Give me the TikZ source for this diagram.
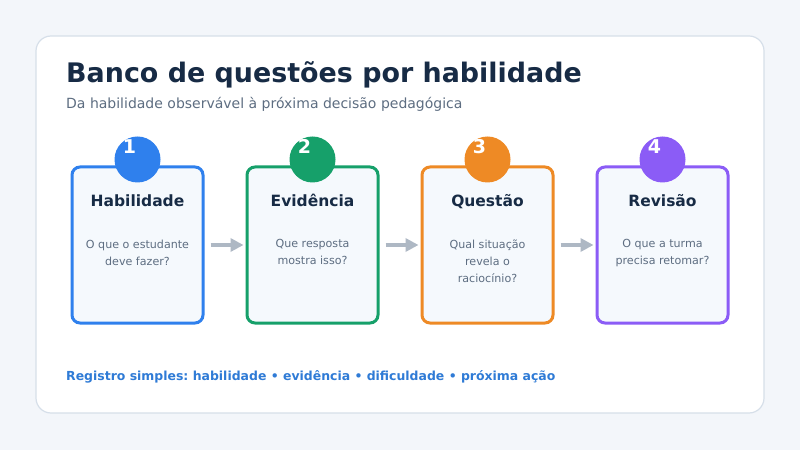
\documentclass[tikz,border=0pt]{standalone}
\usepackage{fontspec}
\setmainfont{DejaVu Sans}
\frenchspacing
\usetikzlibrary{positioning,arrows.meta}
\definecolor{pagebg}{HTML}{F3F6FA}
\definecolor{cardline}{HTML}{D6DFE9}
\definecolor{boxfill}{HTML}{F5F9FD}
\definecolor{ink}{HTML}{172B45}
\definecolor{muted}{HTML}{5D6D81}
\definecolor{arrowgray}{HTML}{AEB8C4}
\definecolor{cblue}{HTML}{2F80ED}
\definecolor{cgreen}{HTML}{16A06A}
\definecolor{corange}{HTML}{EE8A25}
\definecolor{cpurple}{HTML}{8B5CF6}
\definecolor{footblue}{HTML}{2F7BD6}

\begin{document}
\begin{tikzpicture}[x=1pt,y=1pt]
		\tikzstyle{stage}=[rectangle, rounded corners=8pt, line width=3pt, fill=boxfill, minimum width=131pt, minimum height=156pt, node distance=41pt]
		\tikzstyle{badge}=[circle, minimum size=46pt, inner sep=0pt]
		\tikzstyle{num}=[text=white, font=\fontsize{19}{19}\selectfont\bfseries, anchor=base]
		\tikzstyle{head}=[text=ink, font=\fontsize{15.5}{15.5}\selectfont\bfseries, anchor=base]
		\tikzstyle{ask}=[text=muted, font=\fontsize{11.1}{17}\selectfont, align=center, anchor=north, inner sep=0pt]
		\tikzstyle{connect}=[-{Triangle[length=13pt,width=13pt]}, line width=4pt, arrowgray, shorten <=6pt, shorten >=2pt]
		% page and card
		\fill[pagebg] (0,0) rectangle (800,450);
		\draw[cardline, fill=white, line width=1.2pt, rounded corners=15pt] (36,37) rectangle (764,414);
		\useasboundingbox (0,0) rectangle (800,450);
		
		\node[anchor=base west, inner sep=0pt, text=ink, font=\fontsize{26.9}{26.9}\selectfont\bfseries] (title) at (66,367.3) {Banco de questões por habilidade};
		\node[anchor=base west, inner sep=0pt, text=muted, font=\fontsize{14}{14}\selectfont] (sub) at (66,341.7) {Da habilidade observável à próxima decisão pedagógica};
		
		\node[stage, draw=cblue] (hab) at (137.5,205) {};
		\node[stage, draw=cgreen] (evi) [right=of hab] {};
		\node[stage, draw=corange] (que) [right=of evi] {};
		\node[stage, draw=cpurple] (rev) [right=of que] {};
		
		\node[badge, fill=cblue] (b1) at ([yshift=6pt]hab.north) {};
		\node[badge, fill=cgreen] (b2) at ([yshift=6pt]evi.north) {};
		\node[badge, fill=corange] (b3) at ([yshift=6pt]que.north) {};
		\node[badge, fill=cpurple] (b4) at ([yshift=6pt]rev.north) {};
		
		\node[num] at ([xshift=-8pt,yshift=6.3pt]b1.center) {1};
		\node[num] at ([xshift=-8pt,yshift=6.3pt]b2.center) {2};
		\node[num] at ([xshift=-8pt,yshift=6.3pt]b3.center) {3};
		\node[num] at ([xshift=-8pt,yshift=6.3pt]b4.center) {4};
		
		\node[head] (h1) at ([yshift=-41pt]hab.north) {Habilidade};
		\node[head] (h2) at ([yshift=-41pt]evi.north) {Evidência};
		\node[head] (h3) at ([yshift=-41pt]que.north) {Questão};
		\node[head] (h4) at ([yshift=-41pt]rev.north) {Revisão};
		
		\node[ask] (q1) at ([yshift=-74pt]hab.north) {O que o estudante\\deve fazer?};
		\node[ask] (q2) at ([yshift=-74pt]evi.north) {Que resposta\\mostra isso?};
		\node[ask] (q3) at ([yshift=-74pt]que.north) {Qual situação\\revela o\\raciocínio?};
		\node[ask] (q4) at ([yshift=-74pt]rev.north) {O que a turma\\precisa retomar?};
		
		\draw[connect] (hab) -- (evi);
		\draw[connect] (evi) -- (que);
		\draw[connect] (que) -- (rev);
		
		\node[anchor=base west, inner sep=0pt, text=footblue, font=\fontsize{12.45}{12.45}\selectfont\bfseries] (foot) at (66,70) {Registro simples: habilidade • evidência • dificuldade • próxima ação};

	\end{tikzpicture}
\end{document}
